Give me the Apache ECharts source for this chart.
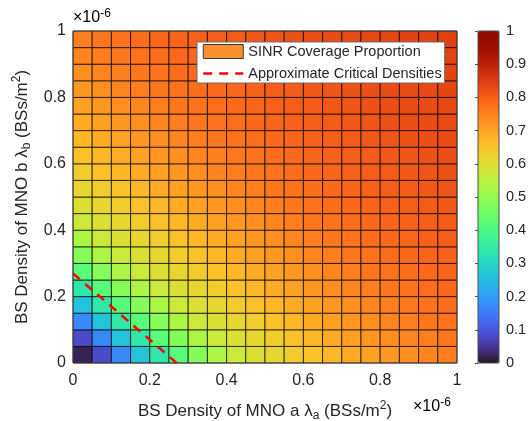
<!DOCTYPE html>
<html>
<head>
<meta charset="utf-8">
<script src="https://cdn.jsdelivr.net/npm/echarts@6/dist/echarts.min.js"></script>
<style>
  html, body { margin: 0; padding: 0; background: #fff; }
  #chart { width: 528px; height: 421px; }
</style>
</head>
<body>
<div id="chart"></div>
<script>
// cell left/bottom edges, in units of 1e-6 BSs/m^2
const densityA = [0, 0.05, 0.1, 0.15, 0.2, 0.25, 0.3, 0.35, 0.4, 0.45,
                  0.5, 0.55, 0.6, 0.65, 0.7, 0.75, 0.8, 0.85, 0.9, 0.95];
const densityB = [0, 0.05, 0.1, 0.15, 0.2, 0.25, 0.3, 0.35, 0.4, 0.45,
                  0.5, 0.55, 0.6, 0.65, 0.7, 0.75, 0.8, 0.85, 0.9, 0.95];
// coverage read per anti-diagonal (cell index a + b), it only depends on total density
const coverageByDiag = [0.02, 0.08, 0.17, 0.26, 0.34, 0.42, 0.48, 0.53, 0.57, 0.595,
                        0.615, 0.635, 0.655, 0.67, 0.69, 0.705, 0.72, 0.73, 0.745, 0.755,
                        0.765, 0.772, 0.779, 0.785, 0.791, 0.796, 0.801, 0.806, 0.81, 0.814,
                        0.818, 0.822, 0.825, 0.828, 0.831, 0.834, 0.837, 0.84, 0.842];
// approximate critical densities line
const criticalA = [0, 0.27];
const criticalB = [0.27, 0];

const cellStep = densityA[1] - densityA[0];
const gridData = [];
densityA.forEach((a, i) => {
    densityB.forEach((b, j) => {
        gridData.push([a, b, coverageByDiag[i + j]]);
    });
});
const lineData = criticalA.map((a, i) => [a, criticalB[i]]);

// turbo colormap (d3 polynomial)
function turbo(t) {
    const c = v => Math.max(0, Math.min(255, Math.round(v)));
    const r = c(34.61 + t * (1172.33 - t * (10793.56 - t * (33300.12 - t * (38394.49 - t * 14825.05)))));
    const g = c(23.31 + t * (557.33 + t * (1225.33 - t * (3574.96 - t * (1073.77 + t * 707.56)))));
    const b = c(27.2 + t * (3211.1 - t * (15327.97 - t * (27814 - t * (22569.18 - t * 6838.66)))));
    return 'rgb(' + r + ',' + g + ',' + b + ')';
}
const turboColors = [];
for (let k = 0; k <= 64; k++) turboColors.push(turbo(k / 64));

const FONT = "'Liberation Sans', Arial, sans-serif";
const TXT = '#262626';
const richName = {
    t: { fontSize: 17, fontFamily: FONT, color: TXT, lineHeight: 22 },
    sub: { fontSize: 12, fontFamily: FONT, color: TXT, lineHeight: 10, verticalAlign: 'bottom' },
    sup: { fontSize: 12, fontFamily: FONT, color: TXT, lineHeight: 10, verticalAlign: 'top' }
};
const richExp = {
    b: { fontSize: 16, fontFamily: FONT, color: TXT, lineHeight: 20 },
    s: { fontSize: 12, fontFamily: FONT, color: TXT, lineHeight: 10, verticalAlign: 'top' }
};
const dashStyle = { color: '#ff0000', width: 2.5, type: [9, 7] };

const chart = echarts.init(document.getElementById('chart'));
chart.setOption({
    animation: false,
    grid: [
        { left: 73, top: 31, width: 384, height: 332, outerBoundsMode: 'none', containLabel: false,
          show: true, borderColor: '#4d4d4d', borderWidth: 1, z: 5 },
        { left: 478, top: 31, width: 21, height: 332, outerBoundsMode: 'none', containLabel: false,
          show: true, borderColor: '#4d4d4d', borderWidth: 1, z: 5 }
    ],
    xAxis: [{
        type: 'value', gridIndex: 0, min: 0, max: 1, interval: 0.2,
        name: '{t|BS Density of MNO a λ}{sub|a}{t| (BSs/m}{sup|2}{t|)}',
        nameLocation: 'middle', nameGap: 37,
        nameTextStyle: { rich: richName },
        axisLine: { show: false },
        axisTick: { show: false },
        splitLine: { show: false },
        axisLabel: { fontSize: 16, fontFamily: FONT, color: TXT, margin: 10 }
    }, {
        type: 'value', gridIndex: 1, min: 0, max: 1, show: false
    }],
    yAxis: [{
        type: 'value', gridIndex: 0, min: 0, max: 1, interval: 0.2,
        name: '{t|BS Density of MNO b λ}{sub|b}{t| (BSs/m}{sup|2}{t|)}',
        nameLocation: 'middle', nameGap: 36, nameRotate: 90,
        nameTextStyle: { rich: richName },
        axisLine: { show: false },
        axisTick: { show: false },
        splitLine: { show: false },
        axisLabel: { fontSize: 16, fontFamily: FONT, color: TXT, margin: 7 }
    }, {
        type: 'value', gridIndex: 1, min: 0, max: 1, interval: 0.1, position: 'right',
        axisLine: { show: false },
        axisTick: { show: true, inside: true, length: 3, lineStyle: { color: '#4d4d4d' } },
        splitLine: { show: false },
        axisLabel: { fontSize: 14.5, fontFamily: FONT, color: TXT, margin: 7 }
    }],
    visualMap: {
        type: 'continuous', seriesIndex: 0, dimension: 2, min: 0, max: 1,
        calculable: false, realtime: false, hoverLink: false,
        left: 478, top: 31, itemWidth: 21, itemHeight: 332, padding: 0, text: null,
        inRange: { color: turboColors }
    },
    legend: {
        orient: 'vertical', left: 197, top: 42,
        itemWidth: 40, itemHeight: 14, itemGap: 7,
        padding: [2, 3, 2, 5],
        backgroundColor: '#fff', borderColor: '#6e6e6e', borderWidth: 1,
        textStyle: { fontSize: 14.5, fontFamily: FONT, color: TXT },
        data: [
            { name: 'SINR Coverage Proportion', icon: 'rect',
              itemStyle: { color: '#f8902e', borderColor: '#3a3a3a', borderWidth: 1 } },
            { name: 'Approximate Critical Densities',
              itemStyle: { opacity: 0 },
              lineStyle: dashStyle }
        ]
    },
    graphic: [
        { type: 'text', left: 73, top: 8, style: { text: '{b|×10}{s|-6}', rich: richExp } },
        { type: 'text', left: 413, top: 397, style: { text: '{b|×10}{s|-6}', rich: richExp } }
    ],
    series: [{
        name: 'SINR Coverage Proportion',
        type: 'custom',
        xAxisIndex: 0, yAxisIndex: 0,
        encode: { x: 0, y: 1 },
        data: gridData,
        renderItem: function (params, api) {
            const x = api.value(0), y = api.value(1);
            const p0 = api.coord([x, y + cellStep]);
            const p1 = api.coord([x + cellStep, y]);
            return {
                type: 'rect',
                shape: { x: p0[0], y: p0[1], width: p1[0] - p0[0], height: p1[1] - p0[1] },
                style: { fill: api.visual('color'), stroke: 'rgba(0,0,0,0.72)', lineWidth: 1 }
            };
        }
    }, {
        name: 'Approximate Critical Densities',
        type: 'line',
        xAxisIndex: 0, yAxisIndex: 0,
        data: lineData,
        symbol: 'none',
        z: 4,
        itemStyle: { color: '#ff0000' },
        lineStyle: dashStyle
    }]
});
</script>
</body>
</html>
